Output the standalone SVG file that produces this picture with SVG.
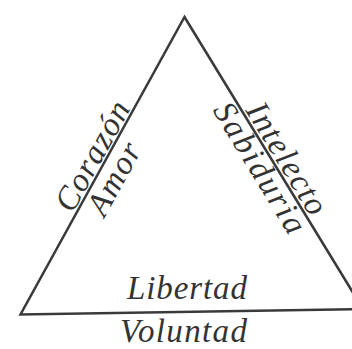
<svg xmlns="http://www.w3.org/2000/svg" width="352" height="349" viewBox="0 0 352 349">
<style>
.t{font-family:"Liberation Serif","Times New Roman",serif;font-style:italic;font-size:33px;fill:#333}
.edge{fill:none;stroke:#3a3a3a;stroke-width:2.5;stroke-linejoin:miter}
</style>
<rect width="352" height="349" fill="#fff"/>
<g id="connectors">
<polygon class="edge" points="184.5,17 363,309 20.5,314.5"/>
</g>
<g id="left-side" transform="translate(20.5,314.5) rotate(-61.1)">
<text id="corazon" class="t" x="113" y="-3" textLength="121">Corazón</text>
<text id="amor" class="t" x="125" y="27" textLength="78">Amor</text>
</g>
<g id="right-side" transform="translate(184.5,17) rotate(58.56)">
<text id="intelecto" class="t" x="111" y="-3" textLength="126">Intelecto</text>
<text id="sabiduria" class="t" x="94" y="25" textLength="148">Sabiduria</text>
</g>
<g id="bottom">
<text id="libertad" class="t" x="127" y="299" textLength="120">Libertad</text>
<text id="voluntad" class="t" x="120" y="342" textLength="127">Voluntad</text>
</g>
</svg>
